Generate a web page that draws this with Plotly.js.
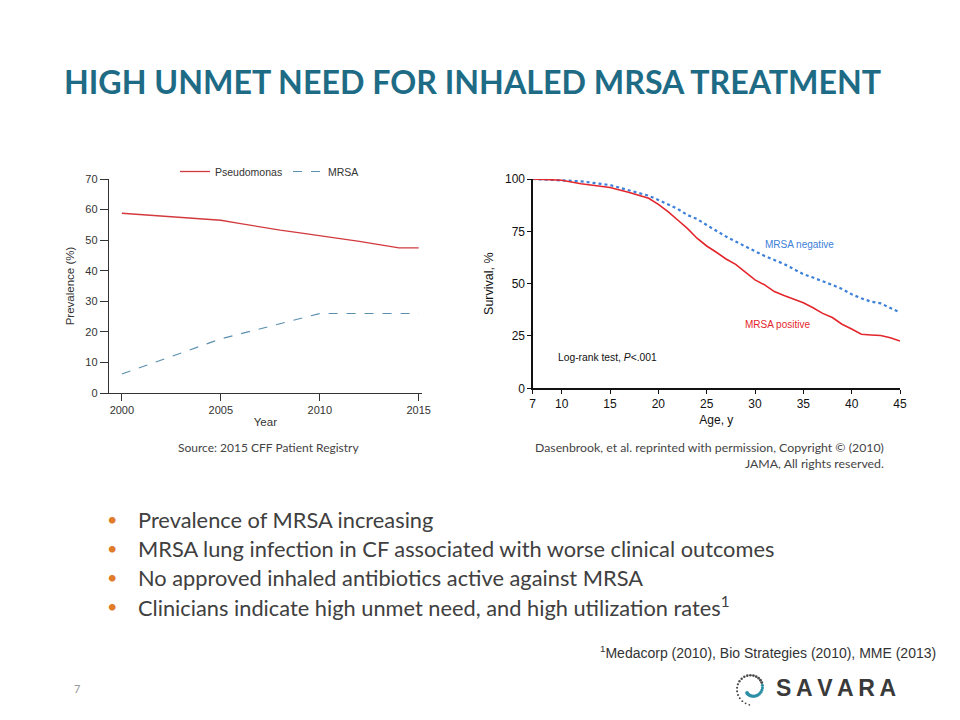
<!DOCTYPE html>
<html>
<head>
<meta charset="utf-8">
<script src="https://cdn.plot.ly/plotly-3.0.1.min.js"></script>
<style>html,body{margin:0;padding:0;background:#fff;}#chart{width:960px;height:720px;}</style>
</head>
<body>
<div id="chart"></div>
<script>
// ---- Left chart data (CFF Patient Registry) ----
const years = [2000, 2001, 2002, 2003, 2004, 2005, 2006, 2007, 2008, 2009, 2010, 2011, 2012, 2013, 2014, 2015];
const pseudomonas = [58.8, 58.3, 57.9, 57.4, 57.0, 56.5, 55.4, 54.3, 53.3, 52.4, 51.5, 50.6, 49.6, 48.5, 47.5, 47.5];
const mrsaYears = [2000, 2005, 2010, 2015];
const mrsa = [6.2, 17.7, 26.0, 26.0];
const leftXTicks = [2000, 2005, 2010, 2015];

// ---- Right chart data (survival by MRSA status) ----
const ages = [7, 10, 12, 15, 17, 19, 20, 21, 22, 23, 24, 25, 26, 27, 28, 29, 30, 31, 32, 33, 34, 35, 36, 37, 38, 39, 40, 41, 42, 43, 44, 45];
const mrsaNegative = [100, 99.5, 98.9, 97.1, 94.7, 92.0, 90.0, 87.9, 85.7, 82.8, 80.9, 78.0, 75.2, 72.5, 70.1, 67.7, 65.3, 63.2, 61.3, 59.4, 57.0, 54.5, 52.9, 51.3, 49.4, 47.5, 44.9, 43.0, 41.4, 40.6, 38.5, 36.2];
const mrsaPositive = [100, 99.4, 97.7, 95.9, 93.6, 90.8, 87.9, 84.4, 80.4, 76.4, 71.7, 68.0, 65.0, 61.8, 59.2, 55.7, 51.8, 49.4, 46.2, 44.3, 42.5, 40.9, 38.5, 35.8, 33.8, 30.6, 28.3, 25.8, 25.5, 25.2, 24.2, 22.6];
const rightXTicks = [7, 10, 15, 20, 25, 30, 35, 40, 45];
const rightYTicks = [0, 25, 50, 75, 100];

const bullets = [
  "Prevalence of MRSA increasing",
  "MRSA lung infection in CF associated with worse clinical outcomes",
  "No approved inhaled antibiotics active against MRSA",
  "Clinicians indicate high unmet need, and high utilization rates<sup>1</sup>"
];

const W = 960, H = 720;
const px = v => v / W;
const py = v => 1 - v / H;
const ARIAL = "Liberation Sans, Arial, sans-serif";
const BODY = "Lato, Open Sans, sans-serif";

const traces = [
  {x: years, y: pseudomonas, xaxis: 'x', yaxis: 'y', type: 'scatter', mode: 'lines', name: 'Pseudomonas',
   line: {color: '#d23a3e', width: 1.3}},
  {x: mrsaYears, y: mrsa, xaxis: 'x', yaxis: 'y', type: 'scatter', mode: 'lines', name: 'MRSA',
   line: {color: '#5a8fae', width: 1.2, dash: 'dash'}},
  {x: ages, y: mrsaNegative, xaxis: 'x2', yaxis: 'y2', type: 'scatter', mode: 'lines', name: 'MRSA negative',
   showlegend: false, line: {color: '#3c80d8', width: 2.2, dash: 'dot'}},
  {x: ages, y: mrsaPositive, xaxis: 'x2', yaxis: 'y2', type: 'scatter', mode: 'lines', name: 'MRSA positive',
   showlegend: false, line: {color: '#e3262c', width: 1.6}}
];

const annotations = [
  {xref: 'x2', yref: 'y2', x: 30.8, y: 68.9, text: 'MRSA negative', showarrow: false, xanchor: 'left', yanchor: 'middle',
   font: {family: ARIAL, size: 10, color: '#3c80d8'}},
  {xref: 'x2', yref: 'y2', x: 28.8, y: 30.6, text: 'MRSA positive', showarrow: false, xanchor: 'left', yanchor: 'middle',
   font: {family: ARIAL, size: 10, color: '#e3262c'}},
  {xref: 'x2', yref: 'y2', x: 9.4, y: 14.8, text: 'Log-rank test, <i>P</i><.001', showarrow: false, xanchor: 'left', yanchor: 'middle',
   font: {family: ARIAL, size: 10.3, color: '#111'}},
  {xref: 'paper', yref: 'paper', x: px(176), y: py(447), text: 'Source: 2015 CFF Patient Registry', showarrow: false,
   xanchor: 'left', yanchor: 'middle', font: {family: BODY, size: 12, color: '#444'}},
  {xref: 'paper', yref: 'paper', x: px(886), y: py(455), text: 'Dasenbrook, et al. reprinted with permission, Copyright © (2010)<br>JAMA, All rights reserved.',
   showarrow: false, xanchor: 'right', yanchor: 'middle', align: 'right', font: {family: BODY, size: 12.3, color: '#444'}},
  {xref: 'paper', yref: 'paper', x: px(598), y: py(652), text: '<sup>1</sup>Medacorp (2010), Bio Strategies (2010), MME (2013)',
   showarrow: false, xanchor: 'left', yanchor: 'middle', font: {family: ARIAL, size: 14, color: '#333'}},
  {xref: 'paper', yref: 'paper', x: px(77), y: py(688), text: '7', showarrow: false, xanchor: 'center', yanchor: 'middle',
   font: {family: BODY, size: 11, color: '#999'}},
  {xref: 'paper', yref: 'paper', x: px(774), y: py(688), text: 'S\u2009A\u2009V\u2009A\u2009R\u2009A', showarrow: false,
   xanchor: 'left', yanchor: 'middle', font: {family: ARIAL, size: 23, color: '#3a3a3a', weight: 'bold'}}
];

bullets.forEach((t, i) => {
  const yy = 519 + i * 29;
  annotations.push({xref: 'paper', yref: 'paper', x: px(112), y: py(yy), text: '•', showarrow: false,
    xanchor: 'center', yanchor: 'middle', font: {family: BODY, size: 18, color: '#e07b2a'}});
  annotations.push({xref: 'paper', yref: 'paper', x: px(136), y: py(yy), text: t, showarrow: false,
    xanchor: 'left', yanchor: 'middle', font: {family: BODY, size: 21.8, color: '#404040'}});
});

// decorative dotted spiral for the logo
const shapes = [];
const cx = 752, cy = 688;
for (let k = 0; k < 30; k++) {
  const t = k / 29;
  const ang = Math.PI * 0.55 + t * Math.PI * 2.2;
  const r = 17 - t * 10;
  const x = cx + r * Math.cos(ang), y = cy + r * Math.sin(ang);
  const rad = 0.9 + t * 1.0;
  shapes.push({type: 'circle', xref: 'paper', yref: 'paper', x0: px(x - rad), x1: px(x + rad), y0: py(y + rad), y1: py(y - rad),
    fillcolor: t > 0.6 ? '#2d8fa6' : '#4a4a4a', line: {width: 0}});
}

const axisFontL = {family: ARIAL, size: 11, color: '#333'};
const axisFontR = {family: ARIAL, size: 12, color: '#111'};

const layout = {
  width: W, height: H,
  margin: {l: 0, r: 0, t: 0, b: 0},
  paper_bgcolor: '#fff', plot_bgcolor: 'rgba(0,0,0,0)',
  title: {text: '<b>HIGH UNMET NEED FOR INHALED MRSA TREATMENT</b>', x: px(64), xanchor: 'left', xref: 'paper',
    y: py(83), yanchor: 'middle', yref: 'paper', font: {family: BODY, size: 32.2, color: '#1e6b86'}},
  showlegend: true,
  legend: {orientation: 'h', x: px(175), xanchor: 'left', y: py(157), yanchor: 'top', bgcolor: 'rgba(0,0,0,0)',
    font: {family: ARIAL, size: 10.5, color: '#333'}, entrywidth: 68, entrywidthmode: 'pixels'},
  xaxis: {domain: [px(109), px(421.7)], anchor: 'y', range: [1999.35, 2015.15], tickvals: leftXTicks,
    ticks: 'outside', ticklen: 7, tickcolor: '#333', showline: true, linecolor: '#333', linewidth: 1.2,
    showgrid: false, zeroline: false, tickfont: axisFontL,
    title: {text: 'Year', font: {family: ARIAL, size: 11.5, color: '#333'}, standoff: 2}},
  yaxis: {domain: [py(393), py(179)], anchor: 'x', range: [0, 70], dtick: 10,
    ticks: 'outside', ticklen: 8, tickcolor: '#333', showline: true, linecolor: '#333', linewidth: 1.2,
    showgrid: false, zeroline: false, tickfont: axisFontL,
    title: {text: 'Prevalence (%)', font: {family: ARIAL, size: 11.5, color: '#333'}, standoff: 8}},
  xaxis2: {domain: [px(532.7), px(900)], anchor: 'y2', range: [7, 45], tickvals: rightXTicks,
    ticks: 'outside', ticklen: 4, tickcolor: '#111', showline: true, linecolor: '#111', linewidth: 1.3,
    showgrid: false, zeroline: false, tickfont: axisFontR,
    title: {text: 'Age, y', font: {family: ARIAL, size: 12, color: '#111'}, standoff: 5}},
  yaxis2: {domain: [py(388.3), py(179)], anchor: 'x2', range: [0, 100], tickvals: rightYTicks,
    ticks: 'outside', ticklen: 4, tickcolor: '#111', showline: true, linecolor: '#111', linewidth: 1.3,
    showgrid: false, zeroline: false, tickfont: axisFontR,
    title: {text: 'Survival, %', font: {family: ARIAL, size: 12.5, color: '#111'}, standoff: 8}},
  annotations: annotations,
  shapes: shapes
};

Plotly.newPlot('chart', traces, layout, {staticPlot: true, displayModeBar: false});
</script>
</body>
</html>
